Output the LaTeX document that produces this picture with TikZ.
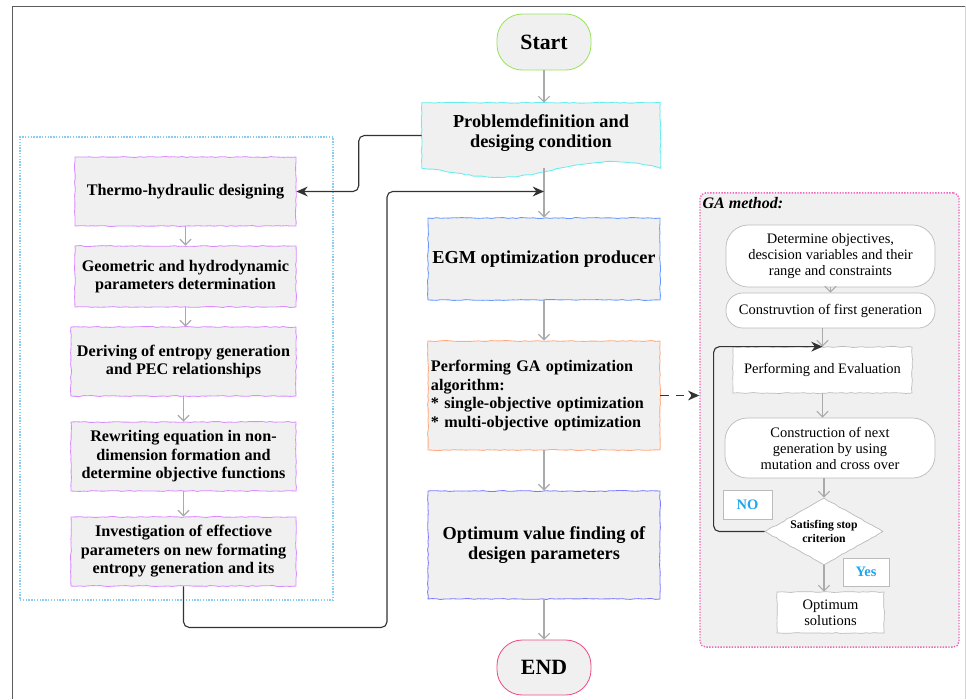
\documentclass[tikz,border=0pt]{standalone}
\usepackage{fontspec}
\setmainfont{Liberation Serif}
\usetikzlibrary{arrows.meta,shapes.geometric,decorations.pathmorphing}
\definecolor{boxfill}{HTML}{F0F0F0}
\definecolor{startline}{HTML}{99E55A}
\definecolor{probline}{HTML}{66EEEE}
\definecolor{egmline}{HTML}{6699FF}
\definecolor{gaoptline}{HTML}{FFAA80}
\definecolor{optline}{HTML}{7B7BFF}
\definecolor{endline}{HTML}{EE4D88}
\definecolor{sideline}{HTML}{D98BFF}
\definecolor{grpline}{HTML}{88CCEE}
\definecolor{gapink}{HTML}{EE66BB}
\definecolor{galine}{HTML}{BBBBBB}
\definecolor{tagblue}{HTML}{1EA7F0}
\definecolor{flowgray}{HTML}{AAAAAA}
\definecolor{linkblack}{HTML}{333333}

\begin{document}
\begin{tikzpicture}[x=0.025cm,y=-0.025cm,
  wob/.style={decorate,decoration={random steps,segment length=3pt,amplitude=0.35pt}},
  box/.style={rectangle,draw,fill=boxfill,align=center,inner sep=2pt,line width=0.6pt},
  mainbox/.style={box,wob,font=\fontsize{13}{14.5}\selectfont\bfseries,minimum width=5.8cm},
  sidebox/.style={box,wob,draw=sideline,font=\fontsize{11.5}{13.2}\selectfont\bfseries},
  term/.style={box,rounded corners=18pt,minimum width=2.35cm,font=\fontsize{15.5}{17}\selectfont\bfseries},
  gastep/.style={rectangle,draw=galine,fill=white,align=center,line width=0.5pt,font=\fontsize{10.3}{11.4}\selectfont},
  tag/.style={rectangle,draw=galine,fill=white,text=tagblue,line width=0.5pt,font=\fontsize{10.3}{12}\selectfont\bfseries},
  flow/.style={draw=flowgray,line width=0.8pt,-{Straight Barb[length=4pt,width=8pt]}},
  link/.style={draw=linkblack,line width=0.8pt,rounded corners=4pt,-{Stealth[length=8pt,width=7pt]}}]
\useasboundingbox (0,0) rectangle (966,699);
% frame
\draw[linkblack!80,line width=0.6pt] (12,699) -- (12,6) -- (965,6);
\draw[galine!60,line width=0.6pt] (965,6) -- (965,699);

% left group and GA group
\node [draw=grpline,densely dotted,line width=1pt,minimum width=7.825cm,minimum height=11.575cm] (grp) at (176.5,368.5) {};
\node [draw=gapink,fill=boxfill,densely dotted,line width=1pt,rounded corners=4pt,minimum width=6.475cm,minimum height=11.35cm] (gabox) at (829.5,420) {};
\node [anchor=base west,inner sep=0pt,font=\fontsize{11.4}{13}\selectfont\bfseries\itshape] (gatitle) at ([shift={(3,16)}]gabox.north west) {GA method:};

% main flow
\node [term,draw=startline,minimum height=1.4cm] (start) at (544,42) {Start};
\node [font=\fontsize{13}{14.5}\selectfont\bfseries,align=center,minimum width=5.95cm,minimum height=1.625cm,inner sep=0pt] (prob) at (541,135.5) {};
\fill[boxfill] (prob.north west) -- (prob.north east) -- (prob.south east)
  .. controls (600,152) and (565,170) .. (520,176) .. controls (480,181) and (450,170) .. (prob.south west) -- cycle;
\draw[probline,line width=0.6pt,wob] (prob.north west) -- (prob.north east) -- (prob.south east)
  .. controls (600,152) and (565,170) .. (520,176) .. controls (480,181) and (450,170) .. (prob.south west) -- cycle;
\node [font=\fontsize{13}{14.5}\selectfont\bfseries,align=center] (probtxt) at (541,133) {Problemdefinition and\\desiging condition};
\node [mainbox,draw=egmline,minimum height=2.05cm] (egm) at (544,259) {EGM optimization producer};
\node [mainbox,draw=gaoptline,minimum height=2.725cm,text width=5.65cm,align=left,font=\fontsize{11.5}{13.2}\selectfont\bfseries] (gaopt) at (544,395.5) {Performing GA optimization algorithm:\\{}* single-objective optimization\\{}* multi-objective optimization};
\node [mainbox,draw=optline,minimum height=2.7cm] (opt) at (544,545) {Optimum value finding of\\desigen parameters};
\node [term,draw=endline,minimum height=1.375cm] (end) at (544,667.5) {END};

% left column
\node [sidebox,minimum width=5.525cm,minimum height=1.725cm] (thermo) at (185.5,191.5) {Thermo-hydraulic designing};
\node [sidebox,minimum width=5.525cm,minimum height=1.525cm] (geo) at (185.5,276.5) {Geometric and hydrodynamic\\parameters determination};
\node [sidebox,minimum width=5.625cm,minimum height=1.725cm] (deriv) at (183.5,361.5) {Deriving of entropy generation\\and PEC relationships};
\node [sidebox,minimum width=5.625cm,minimum height=1.725cm] (rewr) at (183.5,456.5) {Rewriting equation in non-\\dimension formation and\\determine objective functions};
\node [sidebox,minimum width=5.625cm,minimum height=1.725cm] (inv) at (183.5,551.5) {Investigation of effectiove\\parameters on new formating\\entropy generation and its};

% GA steps
\node [gastep,rounded corners=16pt,minimum width=5.225cm,minimum height=1.55cm] (det) at (830.5,256) {Determine objectives,\\descision variables and their\\range and constraints};
\node [gastep,rounded corners=12pt,minimum width=5.225cm,minimum height=0.875cm] (cons1) at (830.5,310.5) {Construvtion of first generation};
\node [gastep,wob,minimum width=4.475cm,minimum height=1.15cm] (perfev) at (822.5,370) {Performing and Evaluation};
\node [gastep,rounded corners=16pt,minimum width=5.25cm,minimum height=1.5cm] (next) at (830,448) {Construction of next\\generation by using\\mutation and cross over};
\node [gastep,wob,diamond,shape aspect=1.76,inner sep=0pt,minimum width=2.95cm,minimum height=1.675cm,font=\fontsize{8.3}{9.6}\selectfont\bfseries] (dia) at (824,531.5) {Satisfing stop\\criterion};
\node [tag,minimum width=1.225cm,minimum height=0.725cm] (no) at (747.5,504.5) {NO};
\node [tag,minimum width=1.15cm,minimum height=0.7cm] (yes) at (866,572) {Yes};
\node [gastep,wob,minimum width=2.675cm,minimum height=1.025cm] (optsol) at (830.5,612.5) {Optimum\\solutions};

% connectors
\coordinate (join) at (egm.north |- thermo.east);
\draw[flow] (start) -- (prob.north -| start);
\draw[flow] (egm.north |- prob.south) -- (egm.north);
\draw[flow] (egm) -- (gaopt);
\draw[flow] (gaopt) -- (opt);
\draw[flow] (opt) -- (end);
\draw[flow] (thermo.south) -- (thermo.south |- geo.north);
\draw[flow] (geo.south) -- (geo.south |- deriv.north);
\draw[flow] (deriv) -- (rewr);
\draw[flow] (rewr) -- (inv);
\draw[link] (prob.west) -- ++(-63,0) |- (thermo.east);
\draw[link] (inv.south) -- ++(0,41) -- ++(203.5,0) |- (join);
\draw[link,rounded corners=0pt,dashed,dash pattern=on 6pt off 5pt] (gaopt.east) -- (gabox.west |- gaopt.east);

\draw[flow] (det.south) -- (cons1.north);
\draw[flow] (cons1.south -| perfev) -- (perfev.north);
\draw[flow] (perfev.south) -- (perfev.south |- next.north);
\draw[flow] (dia.north |- next.south) -- (dia.north);
\draw[flow] (dia.south) -- (dia.south |- optsol.north);
\draw[link] (dia.west) -- ++(-51,0) |- (perfev.north);
\end{tikzpicture}
\end{document}
